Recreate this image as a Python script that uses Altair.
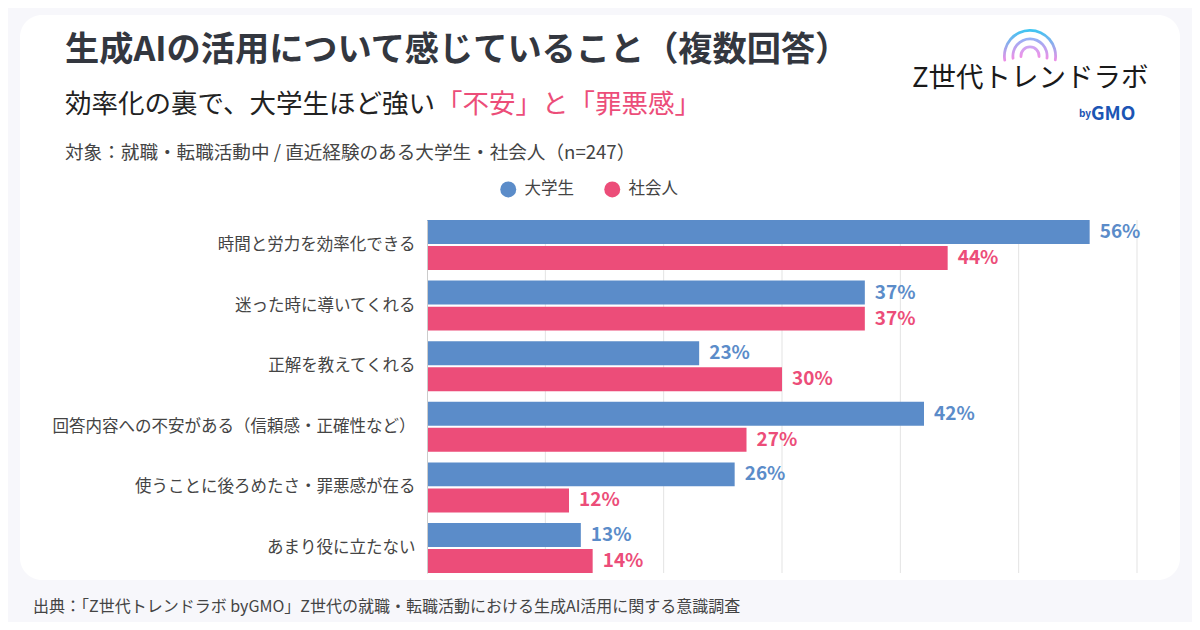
import altair as alt
import pandas as pd

# ---- data ----
categories = [
    "時間と労力を効率化できる",
    "迷った時に導いてくれる",
    "正解を教えてくれる",
    "回答内容への不安がある（信頼感・正確性など）",
    "使うことに後ろめたさ・罪悪感が在る",
    "あまり役に立たない",
]
series = ["大学生", "社会人"]
students = [56, 37, 23, 42, 26, 13]
workers = [44, 37, 30, 27, 12, 14]
grid_values = [10, 20, 30, 40, 50, 60]
colors = ["#5b8cc9", "#ec4d79"]

rows = []
for c, s, w in zip(categories, students, workers):
    rows.append({"item": c, "group": series[0], "value": s})
    rows.append({"item": c, "group": series[1], "value": w})
df = pd.DataFrame(rows)
df["label"] = df["value"].astype(str) + "%"

FONT = "Noto Sans CJK JP"
W, H = 710, 353
one = pd.DataFrame({"k": [0]})

xscale = alt.Scale(domain=[0, 60], nice=False, zero=True)
y_enc = alt.Y(
    "item:N",
    sort=categories,
    scale=alt.Scale(domain=categories, paddingInner=0.175, paddingOuter=0),
    axis=alt.Axis(
        title=None, labelFontSize=16.5, labelFont=FONT, labelColor="#444444",
        ticks=False, domain=True, domainColor="#cccccc", labelPadding=12,
        labelLimit=500, grid=False, zindex=1,
    ),
)
yoff = alt.YOffset("group:N", sort=series, scale=alt.Scale(domain=series, paddingInner=0.08))
color = alt.Color(
    "group:N",
    scale=alt.Scale(domain=series, range=colors),
    legend=alt.Legend(
        title=None, orient="none", legendX=73, legendY=-39, direction="horizontal",
        symbolType="circle", symbolSize=256, symbolStrokeWidth=0, symbolOpacity=1,
        labelFontSize=16.5, labelFont=FONT, labelColor="#444444", labelOffset=8,
        columnPadding=30, padding=0,
    ),
)

card = alt.Chart(one).mark_rect(fill="white", cornerRadius=22).encode(
    x=alt.value(-407), x2=alt.value(753), y=alt.value(-205), y2=alt.value(360)
)

grid = alt.Chart(pd.DataFrame({"g": grid_values})).mark_rule(color="#e3e3e3", strokeWidth=1).encode(
    x=alt.X("g:Q", scale=xscale, axis=None), y=alt.value(0), y2=alt.value(H)
)

bars = alt.Chart(df).mark_bar().encode(
    x=alt.X("value:Q", scale=xscale, axis=None),
    y=y_enc, yOffset=yoff, color=color,
)

labels = alt.Chart(df).mark_text(
    align="left", baseline="middle", dx=10, font=FONT, fontSize=19, fontWeight="bold"
).encode(
    x=alt.X("value:Q", scale=xscale, axis=None),
    y=alt.Y("item:N", sort=categories),
    yOffset=yoff,
    text="label:N",
    color=alt.Color("group:N", scale=alt.Scale(domain=series, range=colors), legend=None),
)


def txt(s, x, y, size, col, weight="normal"):
    return alt.Chart(one).mark_text(
        text=s, align="left", baseline="middle", font=FONT, fontSize=size,
        fontWeight=weight, color=col,
    ).encode(x=alt.value(x), y=alt.value(y))


title = txt("生成AIの活用について感じていること（複数回答）", -362, -169, 34.2, "#33373f", "bold")
sub1 = txt("効率化の裏で、大学生ほど強い", -362, -115, 26.5, "#222222")
sub2 = txt("「不安」と「罪悪感」", 9, -115, 26.5, "#ec4d79")
meta = txt("対象：就職・転職活動中 / 直近経験のある大学生・社会人（n=247）", -362, -67, 18.6, "#444444")
footer = txt("出典：「Z世代トレンドラボ byGMO」Z世代の就職・転職活動における生成AI活用に関する意識調査", -394, 387, 16, "#444444")
logo = txt("Z世代トレンドラボ", 485, -141, 27.5, "#1a1a1a")
by = txt("by", 652, -106, 10, "#1c55b4", "bold")
gmo = txt("GMO", 664, -106, 19, "#1c55b4", "bold")


def arc(r, c1, c2):
    grad = alt.LinearGradient(
        gradient="linear", x1=0, x2=0, y1=0, y2=1,
        stops=[alt.GradientStop(color=c1, offset=0), alt.GradientStop(color=c2, offset=1)],
    )
    return alt.Chart(one).mark_arc(
        theta=4.5, theta2=8.06, radius=r, radius2=r - 2.8, fill=grad, cornerRadius=1.4
    ).encode(x=alt.value(603), y=alt.value(-164))


arcs = [arc(27, "#38c6f2", "#f08fe6"), arc(18.5, "#8fb2f6", "#f08fe6"), arc(10.5, "#c9a8f4", "#f08fe6")]

chart = alt.layer(
    card, grid, bars, labels, title, sub1, sub2, meta, footer, logo, by, gmo, *arcs
).properties(
    width=W, height=H, background="#f7f7fb",
    padding={"left": 419, "top": 212, "right": 55, "bottom": 49},
    autosize=alt.AutoSizeParams(type="none"),
).configure_view(stroke=None)

chart.save("out.html", embed_options={"renderer": "svg", "actions": False})
